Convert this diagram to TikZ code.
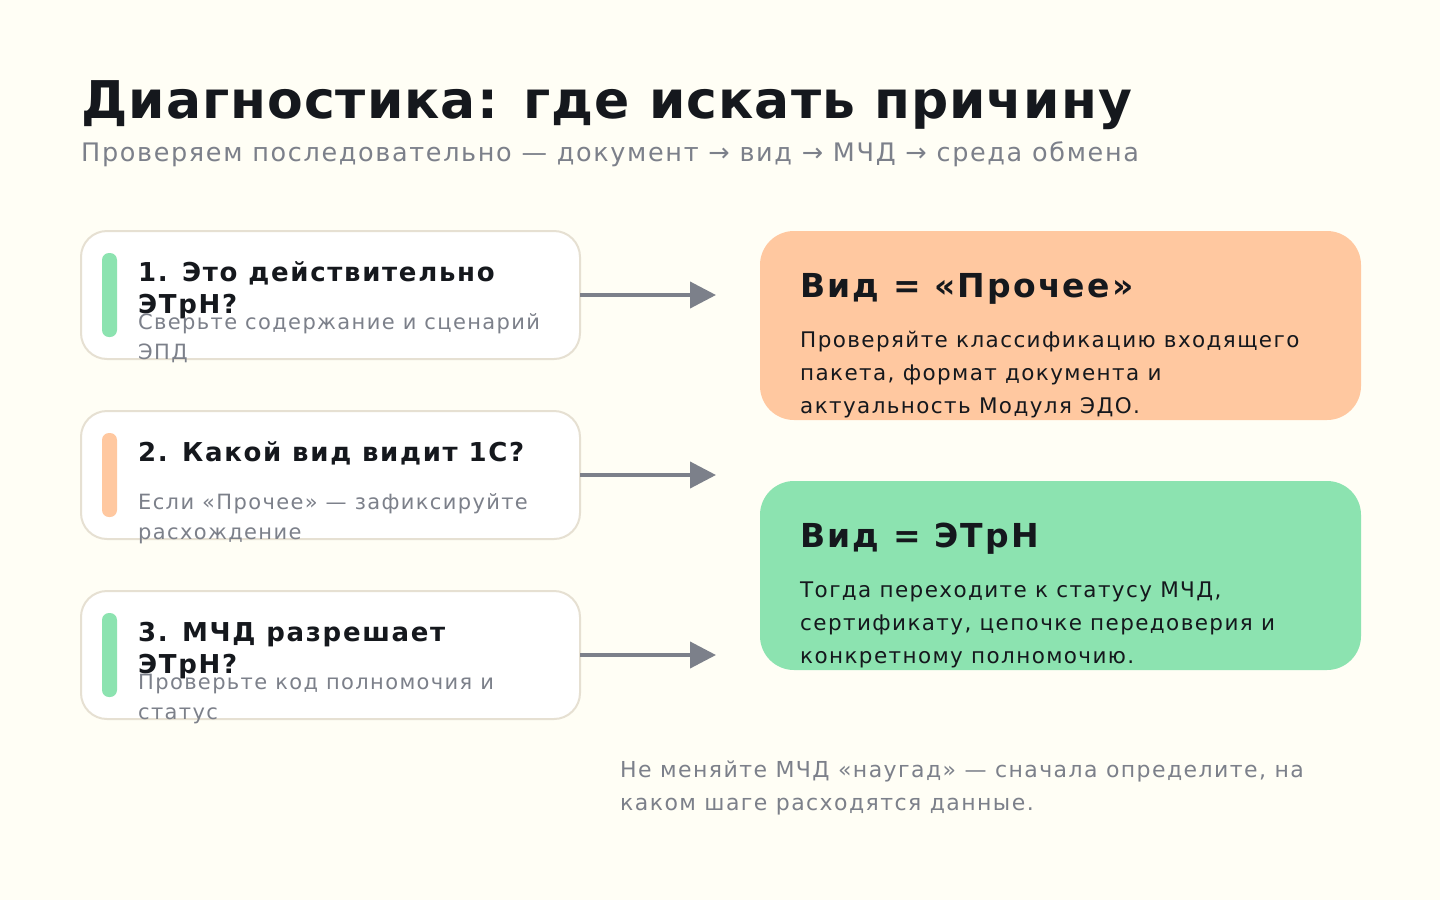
\documentclass[tikz,border=0pt]{standalone}
\usepackage{fontspec}
\setmainfont{DejaVu Sans}
\newfontfamily\wide[LetterSpace=6.5]{DejaVu Sans}
\newfontfamily\titlefont[LetterSpace=2]{DejaVu Sans}
\usetikzlibrary{positioning,arrows.meta}
\definecolor{bgc}{HTML}{FFFEF5}
\definecolor{ink}{HTML}{15181D}
\definecolor{muted}{HTML}{7C808A}
\definecolor{edge}{HTML}{E6E0D2}
\definecolor{mint}{HTML}{8CE3B0}
\definecolor{peach}{HTML}{FFC8A0}
\tikzset{
    x=1pt, y=-1pt,
    stepbox/.style = {
        draw=edge,
        fill=white,
        line width=2pt,
        rounded corners=26pt
    },
    card/.style = {
        rounded corners=34pt
    },
    bar/.style = {
        rounded corners=7pt
    },
    txt/.style = {
        anchor=base west,
        inner sep=0pt
    },
    head/.style = {txt, text=ink, font=\wide\fontsize{26}{32}\selectfont\bfseries},
    sub/.style = {txt, text=muted, font=\wide\fontsize{21}{30}\selectfont},
    big/.style = {txt, text=ink, font=\wide\fontsize{33}{40}\selectfont\bfseries},
    body/.style = {txt, text=ink, font=\wide\fontsize{21.5}{33}\selectfont},
    link/.style = {draw=muted, line width=4pt, -{Triangle[length=26pt,width=26pt]}},
}
\begin{document}
\begin{tikzpicture}
\fill[bgc] (0,0) rectangle (1440,900);
\useasboundingbox (0,0) rectangle (1440,900);

% title
\node[txt, text=ink, font=\titlefont\fontsize{52}{60}\selectfont\bfseries] (title) at (81,118) {Диагностика: где искать причину};
\node[txt, text=muted, font=\wide\fontsize{25.5}{30}\selectfont] (subtitle) at (81,161) {Проверяем последовательно — документ → вид → МЧД → среда обмена};

% steps
\foreach \i/\y/\c in {1/231/mint, 2/411/peach, 3/591/mint} {
    \draw[stepbox] (81,\y) rectangle (580,\y+128);
    \fill[\c, bar] (102,\y+22) rectangle (117,\y+106);
    \coordinate (s\i) at (580,\y+64);
    \coordinate (t\i) at (716,\y+64);
}
\node[head] (h1) at (138,281) {1. Это действительно};
\node[head] at (138,313) {ЭТрН?};
\node[sub] (d1) at (138,329) {Сверьте содержание и сценарий};
\node[sub] at (138,359) {ЭПД};
\node[head] (h2) at (138,461) {2. Какой вид видит 1С?};
\node[sub] (d2) at (138,509) {Если «Прочее» — зафиксируйте};
\node[sub] at (138,539) {расхождение};
\node[head] (h3) at (138,641) {3. МЧД разрешает};
\node[head] at (138,673) {ЭТрН?};
\node[sub] (d3) at (138,689) {Проверьте код полномочия и};
\node[sub] at (138,719) {статус};

\foreach \i in {1,2,3}
    \draw[link] (s\i) -- (t\i);

% outcomes
\fill[peach, card] (760,231) rectangle (1361,420);
\node[big] (other) at (800,297) {Вид = «Прочее»};
\node[body] at (800,347) {Проверяйте классификацию входящего};
\node[body] at (800,380) {пакета, формат документа и};
\node[body] at (800,413) {актуальность Модуля ЭДО.};

\fill[mint, card] (760,481) rectangle (1361,670);
\node[big] (etrn) at (800,547) {Вид = ЭТрН};
\node[body] at (800,597) {Тогда переходите к статусу МЧД,};
\node[body] at (800,630) {сертификату, цепочке передоверия и};
\node[body] at (800,663) {конкретному полномочию.};

% note
\node[sub, font=\wide\fontsize{22}{30}\selectfont] (note) at (620,777) {Не меняйте МЧД «наугад» — сначала определите, на};
\node[sub, font=\wide\fontsize{22}{30}\selectfont] at (620,810) {каком шаге расходятся данные.};
\end{tikzpicture}
\end{document}
